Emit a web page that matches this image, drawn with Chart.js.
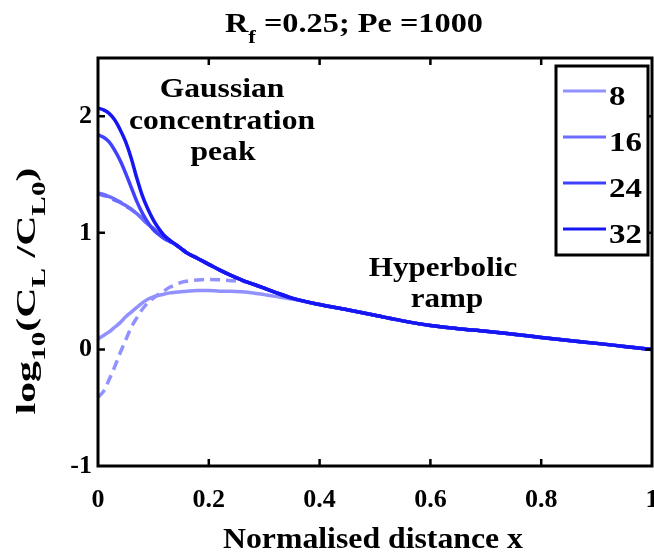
<!DOCTYPE html>
<html><head><meta charset="utf-8">
<script src="https://cdn.jsdelivr.net/npm/chart.js@4.4.0/dist/chart.umd.min.js"></script>
<style>html,body{margin:0;padding:0;background:#fff;}#wrap{width:654px;height:556px;}</style>
</head><body><div id="wrap"><canvas id="c" width="654" height="556"></canvas></div>
<script>
// ---------- data ----------
const xValues = [0,0.01,0.02,0.03,0.04,0.05,0.06,0.07,0.08,0.09,0.10,0.11,0.12,0.13,0.14,0.15,0.16,0.18,0.20,0.22,0.24,0.26,0.28,0.30,0.32,0.35,0.40,0.45,0.50,0.55,0.60,0.65,0.70,0.75,0.80,0.85,0.90,0.95,1.00];
const seriesLabels = ['8','16','24','32'];
const y8      = [0.09,0.12,0.15,0.19,0.23,0.28,0.32,0.36,0.40,0.43,0.45,0.465,0.475,0.485,0.49,0.495,0.50,0.505,0.505,0.50,0.50,0.495,0.485,0.47,0.455,0.432,0.385,0.34,0.293,0.245,0.205,0.178,0.156,0.13,0.103,0.077,0.052,0.026,0.0];
const y8dash  = [-0.41,-0.36,-0.26,-0.15,-0.03,0.08,0.19,0.27,0.345,0.40,0.44,0.475,0.505,0.535,0.555,0.575,0.585,0.595,0.60,0.597,0.59,0.585,0.56,0.525,0.49,0.44,0.385,0.34,0.293,0.245,0.205,0.178,0.156,0.13,0.103,0.077,0.052,0.026,0.0];
const y16     = [1.34,1.33,1.31,1.29,1.26,1.235,1.20,1.165,1.12,1.075,1.035,0.995,0.96,0.93,0.90,0.865,0.83,0.78,0.73,0.68,0.635,0.595,0.56,0.525,0.49,0.44,0.385,0.34,0.293,0.245,0.205,0.178,0.156,0.13,0.103,0.077,0.052,0.026,0.0];
const y16dash = [1.34,1.32,1.31,1.28,1.265,1.23,1.205,1.16,1.125,1.07,1.04,0.995,0.96,0.93,0.90,0.865,0.83,0.78,0.73,0.68,0.635,0.595,0.56,0.525,0.49,0.44,0.385,0.34,0.293,0.245,0.205,0.178,0.156,0.13,0.103,0.077,0.052,0.026,0.0];
const y24     = [1.84,1.82,1.78,1.71,1.62,1.51,1.39,1.27,1.17,1.09,1.025,0.985,0.95,0.925,0.90,0.865,0.83,0.78,0.73,0.68,0.635,0.595,0.56,0.525,0.49,0.44,0.385,0.34,0.293,0.245,0.205,0.178,0.156,0.13,0.103,0.077,0.052,0.026,0.0];
const y32     = [2.07,2.055,2.025,1.97,1.885,1.78,1.64,1.47,1.32,1.205,1.11,1.035,0.975,0.935,0.90,0.865,0.83,0.78,0.73,0.68,0.635,0.595,0.56,0.525,0.49,0.44,0.385,0.34,0.293,0.245,0.205,0.178,0.156,0.13,0.103,0.077,0.052,0.026,0.0];
const xTicks = [0,0.2,0.4,0.6,0.8,1];
const yTicks = [-1,0,1,2];

// ---------- styling ----------
const colors = ['rgb(145,145,255)','rgb(108,108,255)','rgb(64,64,255)','rgb(22,22,242)'];
const FAM = '"Liberation Serif","Times New Roman",serif';
const pts = ys => xValues.map((x,i)=>({x:x,y:ys[i]}));

function ds(label, ys, color, dashed){
  return {label:label, data:pts(ys), borderColor:color, backgroundColor:color,
    borderWidth:3.5, pointRadius:0, showLine:true, fill:false,
    cubicInterpolationMode:'monotone', borderDash: dashed?[10,6]:[], inLegend:!dashed};
}
// first dataset is drawn on top in Chart.js
const datasets = [
  ds(seriesLabels[3], y32, colors[3], false),
  ds(seriesLabels[2], y24, colors[2], false),
  ds(seriesLabels[1], y16, colors[1], false),
  ds('16 (dashed)', y16dash, colors[1], true),
  ds(seriesLabels[0], y8, colors[0], false),
  ds('8 (dashed)', y8dash, colors[0], true)
];

function drawRich(ctx, segs, size, o){
  const subSize = size*0.7, subDrop = size*0.38;
  let w = 0;
  segs.forEach(s=>{ctx.font='bold '+(s.sub?subSize:size)+'px '+FAM; s.w=ctx.measureText(s.t).width; w+=s.w;});
  const sx = o.width ? o.width/w : (o.stretch||1);
  ctx.save();
  ctx.translate(o.x,o.y);
  if(o.rotate) ctx.rotate(o.rotate);
  ctx.scale(sx,1);
  let cx = o.align==='center' ? -w/2 : (o.align==='right' ? -w : 0);
  ctx.fillStyle='#000'; ctx.textAlign='left'; ctx.textBaseline='alphabetic';
  segs.forEach(s=>{ctx.font='bold '+(s.sub?subSize:size)+'px '+FAM; ctx.fillText(s.t,cx,s.sub?subDrop:0); cx+=s.w;});
  ctx.restore();
}

const decor = {
  id:'decor',
  afterDraw(chart){
    const ctx = chart.ctx, a = chart.chartArea, xs = chart.scales.x, ys = chart.scales.y;
    ctx.save();
    ctx.strokeStyle='#000'; ctx.lineWidth=3;
    ctx.strokeRect(a.left, a.top, a.right-a.left, a.bottom-a.top);
    ctx.lineWidth=2.5; const L=7;
    xTicks.forEach(v=>{ if(v<=0||v>=1) return; const p=xs.getPixelForValue(v);
      ctx.beginPath(); ctx.moveTo(p,a.bottom); ctx.lineTo(p,a.bottom-L); ctx.moveTo(p,a.top); ctx.lineTo(p,a.top+L); ctx.stroke();});
    yTicks.forEach(v=>{ const p=ys.getPixelForValue(v); if(p>=a.bottom-1) return;
      ctx.beginPath(); ctx.moveTo(a.left,p); ctx.lineTo(a.left+L,p); ctx.moveTo(a.right,p); ctx.lineTo(a.right-L,p); ctx.stroke();});
    drawRich(ctx,[{t:'R'},{t:'f',sub:true},{t:' =0.25; Pe =1000'}],28,{x:354,y:32,width:258,align:'center'});
    drawRich(ctx,[{t:'Normalised distance x'}],29,{x:373,y:548,width:300,align:'center'});
    drawRich(ctx,[{t:'log'},{t:'10',sub:true},{t:'(C'},{t:'L',sub:true},{t:' /C'},{t:'L0',sub:true},{t:')'}],27,{x:35,y:291,width:247,align:'center',rotate:-Math.PI/2});
    drawRich(ctx,[{t:'Gaussian'}],27,{x:222,y:97,stretch:1.17,align:'center'});
    drawRich(ctx,[{t:'concentration'}],27,{x:222,y:128.5,stretch:1.17,align:'center'});
    drawRich(ctx,[{t:'peak'}],27,{x:223,y:160,stretch:1.17,align:'center'});
    drawRich(ctx,[{t:'Hyperbolic'}],27,{x:443,y:276,stretch:1.15,align:'center'});
    drawRich(ctx,[{t:'ramp'}],27,{x:447,y:307,stretch:1.15,align:'center'});
    ctx.fillStyle='#fff'; ctx.fillRect(556,66,92,189);
    ctx.strokeStyle='#000'; ctx.lineWidth=3; ctx.strokeRect(556,66,92,189);
    const legY=[91,137,183,229];
    seriesLabels.forEach((lab,i)=>{
      const d = chart.data.datasets.find(s=>s.inLegend && s.label===lab);
      ctx.strokeStyle=d.borderColor; ctx.lineWidth=3; ctx.setLineDash([]);
      ctx.beginPath(); ctx.moveTo(563,legY[i]); ctx.lineTo(606,legY[i]); ctx.stroke();
      drawRich(ctx,[{t:lab}],27,{x:609,y:legY[i]+14,stretch:1.22,align:'left'});
    });
    ctx.restore();
  }
};

new Chart(document.getElementById('c'),{
  type:'scatter',
  data:{datasets:datasets},
  options:{
    responsive:false, animation:false, devicePixelRatio:1,
    layout:{padding:{top:58,right:2,left:0,bottom:0}},
    plugins:{legend:{display:false},title:{display:false},tooltip:{enabled:false}},
    scales:{
      x:{type:'linear',min:0,max:1,
        grid:{display:false,drawTicks:false},border:{display:false},
        afterBuildTicks:s=>{s.ticks=xTicks.map(v=>({value:v}));},
        afterFit:s=>{s.height=90;s.paddingLeft=0;s.paddingRight=0;},
        ticks:{color:'#000',padding:19,maxRotation:0,autoSkip:false,font:{family:FAM,size:26,weight:'bold'},
          callback:v=>String(+v.toFixed(1))}},
      y:{type:'linear',min:-1,max:2.5,
        grid:{display:false,drawTicks:false},border:{display:false},
        afterBuildTicks:s=>{s.ticks=yTicks.map(v=>({value:v}));},
        afterFit:s=>{s.width=98;s.paddingTop=0;s.paddingBottom=0;},
        ticks:{color:'#000',padding:6,autoSkip:false,font:{family:FAM,size:26,weight:'bold'},
          callback:v=>String(v)}}
    }
  },
  plugins:[decor]
});
</script></body></html>
